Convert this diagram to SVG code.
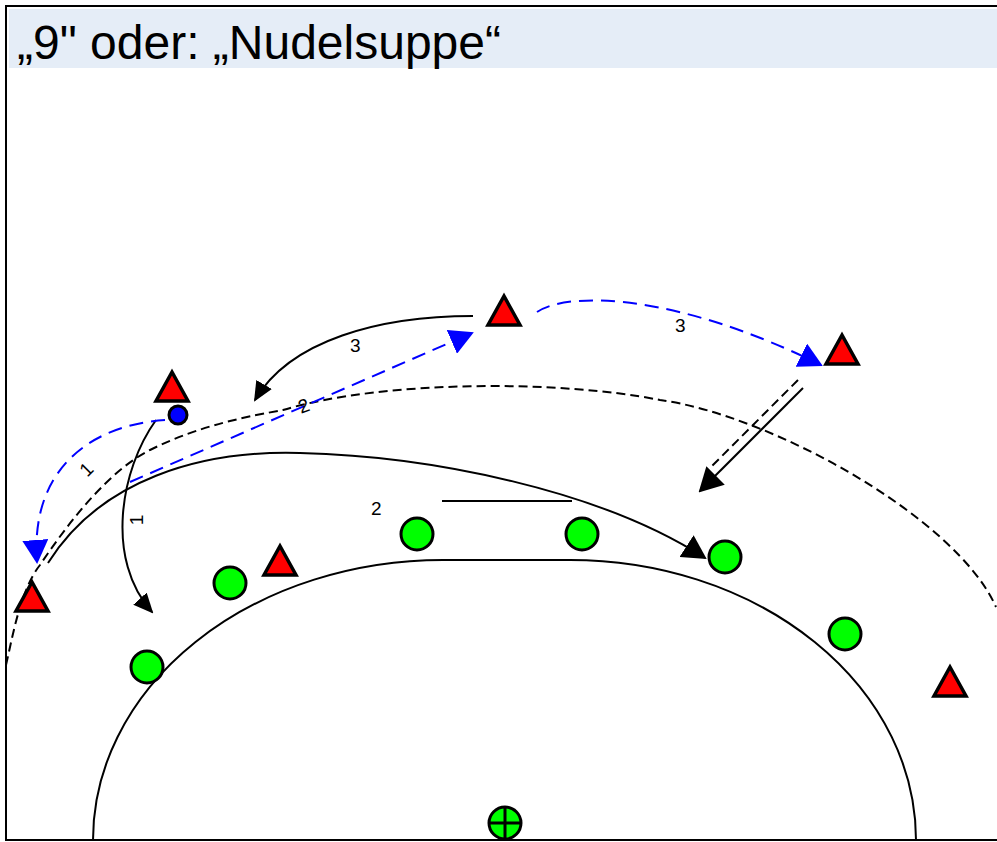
<svg xmlns="http://www.w3.org/2000/svg" width="997" height="842" viewBox="0 0 997 842">
<style>
.att{fill:#FF0000;stroke:#000;stroke-width:3.5;stroke-linejoin:miter}
.def{fill:#00FF00;stroke:#000;stroke-width:3}
.line{fill:none;stroke:#000;stroke-width:2}
.dash{fill:none;stroke:#000;stroke-width:2;stroke-dasharray:9,5}
.bdash{fill:none;stroke:#0000FF;stroke-width:2;stroke-dasharray:14,8}
.lbl{font-family:"Liberation Sans",Arial,sans-serif;font-size:19px;fill:#000}
</style>
<defs>
<marker id="ah" viewBox="0 0 20 20" refX="18" refY="10" markerWidth="20" markerHeight="20" markerUnits="userSpaceOnUse" orient="auto">
<path d="M0,1 L20,10 L0,19 Z" fill="#000"/>
</marker>
<marker id="bh" viewBox="0 0 24 26" refX="22" refY="13" markerWidth="24" markerHeight="26" markerUnits="userSpaceOnUse" orient="auto">
<path d="M0,0 L24,13 L0,26 Z" fill="#0000FF"/>
</marker>
<marker id="ah2" viewBox="0 0 24 26" refX="22" refY="13" markerWidth="24" markerHeight="26" markerUnits="userSpaceOnUse" orient="auto">
<path d="M0,0 L24,13 L0,26 Z" fill="#000"/>
</marker>
<polygon id="tri" points="0,-15 16,14 -16,14"/>
</defs>
<rect x="0" y="0" width="997" height="842" fill="#fff"/>
<g id="frame">
<rect x="9" y="9" width="990" height="59" fill="#E5EDF7"/>
<rect x="6" y="6" width="995" height="834" fill="none" stroke="#000" stroke-width="2"/>
<text x="17" y="59" font-family="Liberation Sans, Arial, sans-serif" font-size="48" fill="#000">„9" oder: „Nudelsuppe“</text>
</g>
<g id="court">
<path class="line" d="M93,840 A350,280 0 0 1 443,560 L570,560 A346,280 0 0 1 916,840"/>
<path class="dash" d="M6,665 C12,640 20,590 40,565 C70,520 110,470 150,450 C200,425 250,416 283,410 C383,380 560,380 660,400 C770,415 956,517 996,607"/>
</g>
<g id="connectors">
<path class="line" d="M48,563 C100,480 200,450 300,453 C430,456 600,490 705,558" marker-end="url(#ah2)"/>
<path class="line" d="M442,501 L572,501"/>
<path class="line" d="M156,420 C120,470 105,560 152,612" marker-end="url(#ah)"/>
<path class="line" d="M473,316 C380,316 290,340 255,400" marker-end="url(#ah)"/>
<path class="bdash" d="M165,420 C90,425 30,470 37,562" marker-end="url(#bh)"/>
<path class="bdash" d="M130,482 L472,333" marker-end="url(#bh)"/>
<path class="bdash" d="M537,312 C570,290 680,295 821,365" marker-end="url(#bh)"/>
<path class="dash" d="M798,380 L712,466"/>
<path class="line" d="M803,388 L700,491" marker-end="url(#ah2)"/>
</g>
<g id="labels">
<text class="lbl" x="371" y="515">2</text>
<text class="lbl" x="350" y="352">3</text>
<text class="lbl" x="675" y="332">3</text>
<text class="lbl" transform="translate(306,412) rotate(-20)" text-anchor="middle">2</text>
<text class="lbl" transform="translate(91,474) rotate(-45)" text-anchor="middle">1</text>
<text class="lbl" transform="translate(143,520) rotate(-90)" text-anchor="middle">1</text>
</g>
<g id="attackers">
<use href="#tri" class="att" x="504" y="311"/>
<use href="#tri" class="att" x="842" y="350"/>
<use href="#tri" class="att" x="172" y="387"/>
<use href="#tri" class="att" x="32" y="597"/>
<use href="#tri" class="att" x="280" y="561"/>
<use href="#tri" class="att" x="950" y="682"/>
</g>
<g id="ball"><circle cx="178" cy="415" r="9" fill="#0000FF" stroke="#000" stroke-width="3"/></g>
<g id="defenders">
<circle class="def" cx="417" cy="534" r="16"/>
<circle class="def" cx="582" cy="534" r="16"/>
<circle class="def" cx="725" cy="557" r="16"/>
<circle class="def" cx="230" cy="583" r="16"/>
<circle class="def" cx="147" cy="667" r="16"/>
<circle class="def" cx="845" cy="634" r="16"/>
</g>
<g id="goalkeeper">
<circle class="def" cx="505" cy="823" r="16"/>
<path d="M505,807 V839 M489,823 H521" stroke="#000" stroke-width="3"/>
</g>
</svg>
